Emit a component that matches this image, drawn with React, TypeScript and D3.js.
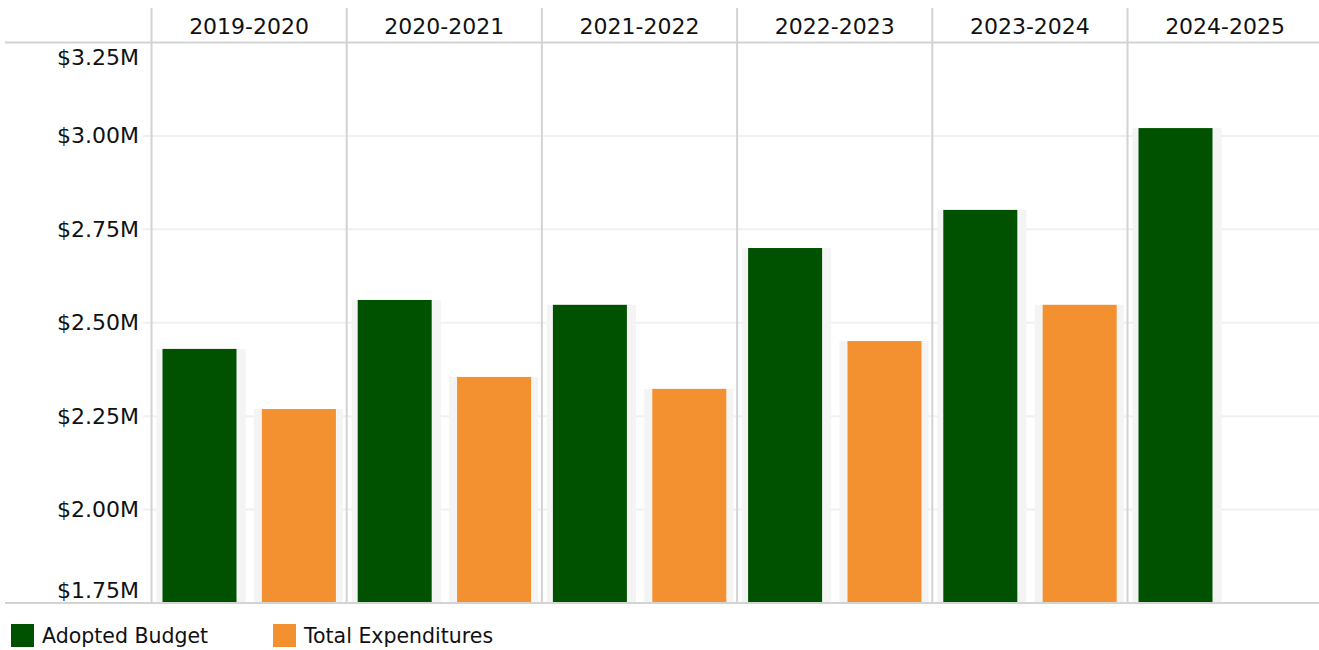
import React from "react";
import * as d3 from "d3";

const years = ["2019-2020", "2020-2021", "2021-2022", "2022-2023", "2023-2024", "2024-2025"];
const adoptedBudget = [2.43, 2.561, 2.548, 2.70, 2.802, 3.021];
const totalExpenditures: (number | null)[] = [2.269, 2.355, 2.323, 2.451, 2.548, null];
const yTicks = [1.75, 2.0, 2.25, 2.5, 2.75, 3.0, 3.25];
const seriesNames = ["Adopted Budget", "Total Expenditures"];
const seriesColors = ["#005200", "#f39130"];

const W = 1319;
const H = 650;
const FONT = "'DejaVu Sans', sans-serif";

export default function App() {
  const plotLeft = 151.5;
  const panelW = 195.2;
  const top = 42.5;
  const bottom = 603;
  const headerTop = 8;

  const x = d3.scaleBand<string>().domain(years).range([plotLeft, plotLeft + panelW * years.length]);
  const y = d3.scaleLinear().domain([1.75, 3.25]).range([bottom, top]);
  const inner = d3.scaleBand<string>().domain(["b", "e"]).range([5, 191.5]).paddingInner(0.085);
  const barW = 74;
  const barOffsets = [6, 8];

  const fmt = (v: number) => `$${v.toFixed(2)}M`;

  return (
    <svg width={W} height={H} style={{ position: "absolute", left: 0, top: 0, background: "#fff" }} fontFamily={FONT}>
      {yTicks.filter((t) => t > 1.75 && t < 3.25).map((t) => (
        <line key={t} x1={143} x2={W} y1={y(t)} y2={y(t)} stroke="#f0f0f0" strokeWidth={2} />
      ))}
      {years.map((yr, i) => {
        const px = x(yr)!;
        const vals = [adoptedBudget[i], totalExpenditures[i]];
        return (
          <g key={yr}>
            {vals.map((v, j) => {
              if (v == null) return null;
              const bx = px + inner(j === 0 ? "b" : "e")!;
              const yy = y(v);
              return (
                <g key={j}>
                  <rect x={bx} y={yy} width={inner.bandwidth()} height={bottom - yy} fill="#f4f4f4" />
                  <rect x={bx + barOffsets[j]} y={yy} width={barW} height={bottom - yy} fill={seriesColors[j]} />
                </g>
              );
            })}
          </g>
        );
      })}
      {years.map((yr) => (
        <line key={yr} x1={x(yr)!} x2={x(yr)!} y1={headerTop} y2={bottom} stroke="#d3d3d3" strokeWidth={2} />
      ))}
      <line x1={5} x2={W} y1={top} y2={top} stroke="#d3d3d3" strokeWidth={2} />
      <line x1={5} x2={W} y1={bottom} y2={bottom} stroke="#d3d3d3" strokeWidth={2} />
      {years.map((yr) => (
        <text key={yr} x={x(yr)! + panelW / 2} y={26} textAnchor="middle" dominantBaseline="central" fontSize={22} fill="#111">
          {yr}
        </text>
      ))}
      {yTicks.map((t) => {
        let yy = y(t);
        if (t === 3.25) yy += 15;
        if (t === 1.75) yy -= 13;
        return (
          <text key={t} x={139} y={yy} textAnchor="end" dominantBaseline="central" fontSize={22} fill="#111">
            {fmt(t)}
          </text>
        );
      })}
      {seriesNames.map((n, j) => {
        const lx = j === 0 ? 11 : 273;
        return (
          <g key={n}>
            <rect x={lx} y={624} width={23} height={23} fill={seriesColors[j]} />
            <text x={lx + 31} y={636} dominantBaseline="central" fontSize={20.5} fill="#111">
              {n}
            </text>
          </g>
        );
      })}
    </svg>
  );
}
